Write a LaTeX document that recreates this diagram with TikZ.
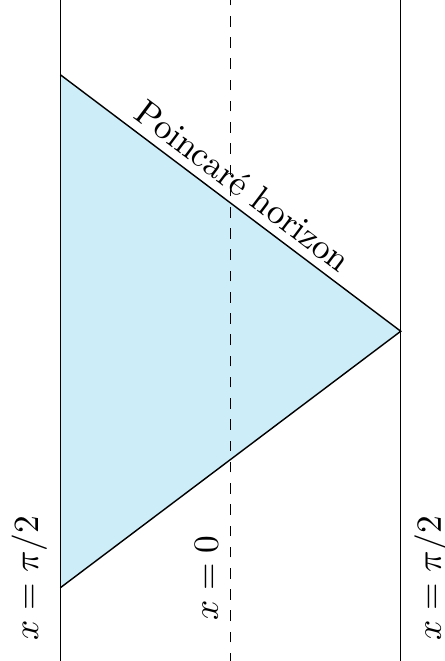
\documentclass[tikz,border=0pt]{standalone}
\usepackage{amsmath,amssymb}
\usepackage{tikz}
\usepackage{xcolor}
\usetikzlibrary{positioning,calc}
\definecolor{PatchColor}{RGB}{205,237,249}

\begin{document}
\begin{tikzpicture}
        \useasboundingbox (-2.29,-3.275) rectangle (2.12,3.29);
        \fill[PatchColor] (-1.69,2.547)--(1.69,0)--(-1.69,-2.547)--cycle;
        \draw (-1.69,-2.547)--(1.69,0)--(-1.69,2.547) node[midway, sloped, above, inner sep=2.3pt] (hor) {Poincar\'e horizon};
        \draw (-1.69,-3.3)--(-1.69,3.3);
        \draw (1.69,-3.3)--(1.69,3.3);
        \draw[dashed] (0,-3.3)--(0,3.3);
        \node[rotate=90] (lbl) at (-2.0,-2.45) {$x=\pi/2$};
        \node[rotate=90] (mid) at (-0.24,-2.45) {$x=0$};
        \node[rotate=90] (lbr) at (2.0,-2.45) {$x=\pi/2$};
      \end{tikzpicture}
\end{document}
